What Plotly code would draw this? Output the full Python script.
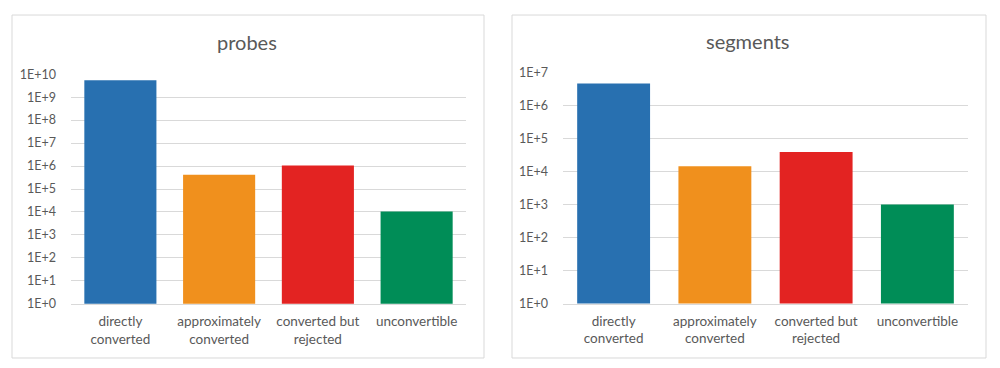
import plotly.graph_objects as go

categories = ["directly<br>converted", "approximately<br>converted", "converted but<br>rejected", "unconvertible"]
probes_values = [5.5e9, 4.2e5, 1.05e6, 1.05e4]
segments_values = [4.6e6, 1.45e4, 3.9e4, 1.0e3]
bar_colors = ["#2870b0", "#f0901d", "#e32322", "#008d57"]
probes_ticks = list(range(0, 11))
segments_ticks = list(range(0, 8))

FONT = "Lato, Carlito, Calibri, sans-serif"
TXT = "#595959"
GRID = "#d9d9d9"

fig = go.Figure()
fig.add_trace(go.Bar(x=categories, y=probes_values, marker=dict(color=bar_colors, line=dict(width=0)),
                     xaxis="x", yaxis="y", width=0.73, showlegend=False))
fig.add_trace(go.Bar(x=categories, y=segments_values, marker=dict(color=bar_colors, line=dict(width=0)),
                     xaxis="x2", yaxis="y2", width=0.72, showlegend=False))

W, H = 1000, 368
# effective drawing area as displayed by the viewer
Y_OFF, H_EFF = 8, 352
def px(x): return x / W
def py(y): return 1 - (y - Y_OFF) / H_EFF

def yax(ticks, domain, anchor):
    return dict(type="log", range=[ticks[0], ticks[-1]], domain=domain, anchor=anchor,
                tickvals=[10 ** t for t in ticks], ticktext=[f"1E+{t}" for t in ticks],
                showgrid=True, gridcolor=GRID, gridwidth=1, zeroline=False, showline=False,
                ticks="", tickfont=dict(family=FONT, size=12.5, color=TXT), ticklabelstandoff=14)

def xax(domain, anchor):
    return dict(domain=domain, anchor=anchor, showline=True, linecolor=GRID, linewidth=1,
                ticks="", showgrid=False, tickfont=dict(family=FONT, size=13.5, color=TXT),
                range=[-0.5, 3.5], ticklabelstandoff=5)

fig.update_layout(
    width=W, height=H, autosize=False, margin=dict(l=0, r=0, t=0, b=0, pad=0),
    paper_bgcolor="white", plot_bgcolor="white",
    xaxis=xax([px(71), px(466)], "y"),
    yaxis=yax(probes_ticks, [py(303), py(74)], "x"),
    xaxis2=xax([px(563), px(968)], "y2"),
    yaxis2=yax(segments_ticks, [py(302.7), py(72.3)], "x2"),
    bargap=0.27,
    shapes=[
        dict(type="rect", xref="paper", yref="paper", x0=px(12), x1=px(484), y0=py(357), y1=py(15),
             line=dict(color=GRID, width=1), layer="below"),
        dict(type="rect", xref="paper", yref="paper", x0=px(512), x1=px(986), y0=py(357), y1=py(15),
             line=dict(color=GRID, width=1), layer="below"),
    ],
    annotations=[
        dict(text="probes", xref="paper", yref="paper", x=px(247), y=py(42), showarrow=False,
             xanchor="center", yanchor="middle", font=dict(family=FONT, size=20, color=TXT)),
        dict(text="segments", xref="paper", yref="paper", x=px(747), y=py(41), showarrow=False,
             xanchor="center", yanchor="middle", font=dict(family=FONT, size=20, color=TXT)),
    ],
)

fig.write_html("out.html", config=dict(displayModeBar=False, responsive=False),
               post_script="document.body.style.margin='0';document.body.style.padding='0';document.body.style.overflow='hidden';")
